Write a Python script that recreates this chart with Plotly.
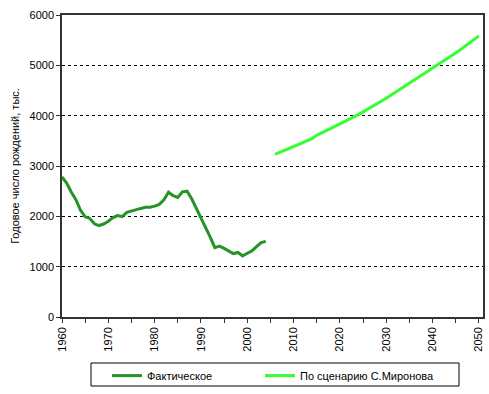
import plotly.graph_objects as go

fact_years = list(range(1960, 2005))
fact_values = [2782, 2662, 2483, 2331, 2121, 1991, 1958, 1851, 1817, 1847,
               1904, 1975, 2015, 1995, 2080, 2106, 2146, 2157, 2179, 2179,
               2203, 2237, 2329, 2478, 2409, 2375, 2486, 2500, 2349, 2161,
               1989, 1795, 1588, 1379, 1408, 1364, 1305, 1260, 1283, 1215,
               1267, 1312, 1397, 1477, 1502]

scen_years = list(range(2006, 2051))
scen_values = [3230, 3270, 3310, 3345, 3385, 3420, 3460, 3500, 3545, 3610,
               3655, 3700, 3745, 3790, 3830, 3875, 3920, 3970, 4020, 4075,
               4125, 4180, 4235, 4290, 4345, 4405, 4460, 4520, 4580, 4640,
               4700, 4760, 4820, 4880, 4930, 4990, 5050, 5115, 5180, 5245,
               5310, 5375, 5445, 5515, 5585]

x_ticks = list(range(1960, 2051, 10))
y_ticks = [0, 1000, 2000, 3000, 4000, 5000, 6000]

FONT = "Liberation Sans, Arial, sans-serif"

fig = go.Figure()
fig.add_trace(go.Scatter(x=fact_years, y=fact_values, mode="lines",
                         name="Фактическое", legend="legend",
                         line=dict(color="#259325", width=3)))
fig.add_trace(go.Scatter(x=scen_years, y=scen_values, mode="lines",
                         name="По сценарию С.Миронова", legend="legend2",
                         line=dict(color="#33FF33", width=3)))

leg_common = dict(orientation="h", xanchor="left", y=-0.146, yanchor="top",
                  bgcolor="rgba(0,0,0,0)", borderwidth=0,
                  font=dict(family=FONT, size=11), itemwidth=30)

fig.update_layout(
    width=489, height=394,
    margin=dict(l=62, r=6, t=15, b=77, autoexpand=False),
    paper_bgcolor="white", plot_bgcolor="white",
    font=dict(family=FONT, size=11, color="black"),
    showlegend=True,
    legend=dict(x=(107 - 62) / 421, **leg_common),
    legend2=dict(x=(260 - 62) / 421, **leg_common),
    shapes=[dict(type="rect", xref="paper", yref="paper",
                 x0=(91 - 62) / 421, x1=(459 - 62) / 421,
                 y0=(317 - 386) / 302, y1=(317 - 363) / 302,
                 line=dict(color="black", width=1), fillcolor="rgba(0,0,0,0)")],
)

fig.update_xaxes(range=[1960, 2050.9], tickvals=x_ticks, ticktext=[str(v) for v in x_ticks],
                 tickangle=-90, showgrid=False, zeroline=False, automargin=False,
                 showline=True, linecolor="#333333", linewidth=1.5, mirror=True,
                 ticks="outside", ticklen=4, tickcolor="#333333",
                 minor=dict(dtick=5, tick0=1965, ticks="outside", ticklen=4, tickcolor="#333333"),
                 tickfont=dict(size=11))
fig.update_yaxes(range=[0, 6000], tickvals=y_ticks, showgrid=True, automargin=False,
                 gridcolor="black", griddash="3px,3px", gridwidth=1, zeroline=False,
                 showline=True, linecolor="#333333", linewidth=1.5, mirror=True,
                 ticks="outside", ticklen=4, tickcolor="#333333",
                 title=dict(text="Годовое число рождений, тыс.", font=dict(size=11), standoff=8),
                 tickfont=dict(size=11))

fig.write_html("out.html")
